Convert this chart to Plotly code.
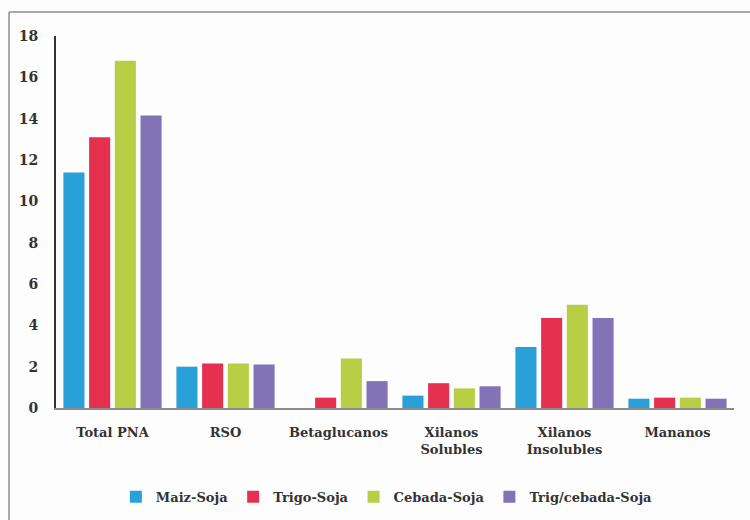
import plotly.graph_objects as go

categories = ["Total PNA", "RSO", "Betaglucanos", "Xilanos<br>Solubles", "Xilanos<br>Insolubles", "Mananos"]
series_names = ["Maiz-Soja", "Trigo-Soja", "Cebada-Soja", "Trig/cebada-Soja"]
maiz_soja = [11.4, 2.0, 0.0, 0.6, 2.95, 0.45]
trigo_soja = [13.1, 2.15, 0.5, 1.2, 4.35, 0.5]
cebada_soja = [16.8, 2.15, 2.4, 0.95, 5.0, 0.5]
trig_cebada_soja = [14.15, 2.1, 1.3, 1.05, 4.35, 0.45]
y_ticks = [0, 2, 4, 6, 8, 10, 12, 14, 16, 18]

colors = ["#2aa0d8", "#e63050", "#b8cf45", "#8272b6"]
values = [maiz_soja, trigo_soja, cebada_soja, trig_cebada_soja]

FONT = "DejaVu Serif"

fig = go.Figure()
for name, vals, col in zip(series_names, values, colors):
    fig.add_trace(go.Bar(x=categories, y=vals, name=name, marker=dict(color=col, line=dict(width=0))))

border = dict(color="#a8a8a8", width=2)
fig.update_layout(
    width=750, height=520,
    margin=dict(l=56, r=16, t=36, b=112, autoexpand=False),
    paper_bgcolor="#fdfdfd", plot_bgcolor="#fdfdfd",
    barmode="group", bargap=0.09, bargroupgap=0.18,
    font=dict(family=FONT, size=13, color="#333333"),
    showlegend=True,
    legend=dict(orientation="h", x=0.488, xanchor="center", y=-0.239, yanchor="middle",
                font=dict(family=FONT, size=13, color="#333333", weight="bold"),
                itemwidth=30, tracegroupgap=0, bgcolor="rgba(0,0,0,0)"),
    xaxis=dict(showline=True, linecolor="#8c8c8c", linewidth=2, ticks="", showgrid=False,
               tickfont=dict(family=FONT, size=13, color="#333333", weight="bold"),
               ticklabelstandoff=11),
    yaxis=dict(range=[0, 18], tickvals=y_ticks, showline=True, linecolor="#333333", linewidth=2,
               ticks="", showgrid=False, zeroline=False,
               tickfont=dict(family=FONT, size=14, color="#333333", weight="bold"),
               ticklabelstandoff=13),
    shapes=[
        dict(type="line", xref="paper", yref="paper", x0=-0.0693, x1=1.1, y0=1.0645, y1=1.0645,
             line=border, layer="below"),
        dict(type="line", xref="paper", yref="paper", x0=-0.0693, x1=-0.0693, y0=-0.4, y1=1.0645,
             line=border, layer="below"),
    ],
)

fig.write_html("out.html")
